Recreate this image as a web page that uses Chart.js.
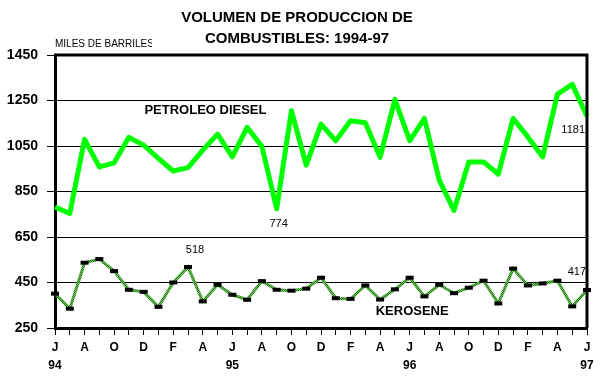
<!DOCTYPE html>
<html><head><meta charset="utf-8">
<script src="https://cdn.jsdelivr.net/npm/chart.js@4/dist/chart.umd.min.js"></script>
<style>html,body{margin:0;padding:0;background:#fff}canvas{display:block}</style>
</head><body>
<canvas id="c" width="610" height="380"></canvas>
<script>
const months = ['Jun 94','Jul 94','Aug 94','Sep 94','Oct 94','Nov 94','Dec 94','Jan 95','Feb 95','Mar 95','Apr 95','May 95',
  'Jun 95','Jul 95','Aug 95','Sep 95','Oct 95','Nov 95','Dec 95','Jan 96','Feb 96','Mar 96','Apr 96','May 96',
  'Jun 96','Jul 96','Aug 96','Sep 96','Oct 96','Nov 96','Dec 96','Jan 97','Feb 97','Mar 97','Apr 97','May 97','Jun 97'];
const tickLabels = ['J','','A','','O','','D','','F','','A','',
  'J','','A','','O','','D','','F','','A','',
  'J','','A','','O','','D','','F','','A','','J'];
const yearLabels = ['94','','','','','','','','','','','',
  '95','','','','','','','','','','','',
  '96','','','','','','','','','','','','97'];
const diesel = [782,753,1079,958,976,1088,1054,995,940,955,1032,1102,
  1002,1132,1049,774,1205,966,1146,1073,1161,1152,1000,1255,
  1073,1171,900,767,980,980,926,1171,1090,1002,1278,1321,1181];
const kerosene = [401,335,537,553,500,418,409,343,450,518,367,440,
  396,374,456,418,414,423,471,381,378,437,375,420,
  471,389,440,403,427,458,358,511,437,446,458,345,417];
const yTicks = [250,450,650,850,1050,1250,1450];
const dieselLabeled = [15, 36];
const keroseneLabeled = [9, 36];
const titleLines = ['VOLUMEN DE PRODUCCION DE', 'COMBUSTIBLES: 1994-97'];
const unitLabel = 'MILES DE BARRILES';
const seriesNames = ['PETROLEO DIESEL', 'KEROSENE'];

const FONT = '"Liberation Sans", Arial, sans-serif';

// checkered pattern for the kerosene line
const pc = document.createElement('canvas');
pc.width = 2; pc.height = 2;
const pctx = pc.getContext('2d');
pctx.fillStyle = '#7cc46a'; pctx.fillRect(0,0,2,2);
pctx.fillStyle = '#1e7a10'; pctx.fillRect(0,0,1,1); pctx.fillRect(1,1,1,1);
const keroPattern = pctx.createPattern(pc, 'repeat');

const deco = {
  id: 'deco',
  afterDraw(chart) {
    const ctx = chart.ctx, a = chart.chartArea;
    const xs = chart.scales.x, ys = chart.scales.y;
    ctx.save();
    // top & right frame
    ctx.strokeStyle = '#000'; ctx.lineWidth = 3;
    ctx.beginPath();
    ctx.moveTo(a.left - 1, a.top); ctx.lineTo(a.right, a.top); ctx.lineTo(a.right, a.bottom);
    ctx.stroke();
    // title
    ctx.fillStyle = '#000';
    ctx.textAlign = 'center'; ctx.textBaseline = 'middle';
    ctx.font = 'bold 15px ' + FONT;
    ctx.fillText(titleLines[0], 297, 18);
    ctx.fillText(titleLines[1], 297, 39);
    // unit label (clipped)
    ctx.save();
    ctx.beginPath(); ctx.rect(50, 30, 102, 20); ctx.clip();
    ctx.font = '10px ' + FONT; ctx.textAlign = 'left';
    ctx.fillText(unitLabel, 55, 44);
    ctx.restore();
    // series names
    ctx.font = 'bold 13px ' + FONT; ctx.textAlign = 'left';
    ctx.fillText(seriesNames[0], xs.getPixelForValue(6.05), ys.getPixelForValue(1208));
    ctx.fillText(seriesNames[1], xs.getPixelForValue(21.7), ys.getPixelForValue(323));
    // value labels
    ctx.font = '11px ' + FONT;
    dieselLabeled.forEach(i => {
      const x = xs.getPixelForValue(i), y = ys.getPixelForValue(diesel[i]);
      if (i === months.length - 1) { ctx.textAlign = 'right'; ctx.fillText(String(diesel[i]), x - 2, y + 14); }
      else { ctx.textAlign = 'center'; ctx.fillText(String(diesel[i]), x + 2, y + 15); }
    });
    keroseneLabeled.forEach(i => {
      const x = xs.getPixelForValue(i), y = ys.getPixelForValue(kerosene[i]);
      if (i === months.length - 1) { ctx.textAlign = 'right'; ctx.fillText(String(kerosene[i]), x - 1, y - 18); }
      else { ctx.textAlign = 'center'; ctx.fillText(String(kerosene[i]), x + 7, y - 17); }
    });
    ctx.restore();
  }
};

new Chart(document.getElementById('c'), {
  type: 'line',
  data: {
    labels: months,
    datasets: [
      { label: seriesNames[0], data: diesel, borderColor: '#00ff00', borderWidth: 5,
        borderJoinStyle: 'round', pointRadius: 0, tension: 0, fill: false },
      { label: seriesNames[1], data: kerosene, borderColor: keroPattern, borderWidth: 3,
        pointStyle: 'line', pointRadius: 4, pointBorderWidth: 4, pointBorderColor: '#000',
        pointBackgroundColor: '#000', tension: 0, fill: false }
    ]
  },
  options: {
    responsive: false, animation: false, devicePixelRatio: 1,
    layout: { padding: { top: 55, right: 23, left: 0, bottom: 0 } },
    plugins: { legend: { display: false }, title: { display: false }, tooltip: { enabled: false } },
    scales: {
      x: {
        type: 'category', offset: false,
        grid: { drawOnChartArea: false, drawTicks: true, tickLength: 7, color: '#000', lineWidth: 1 },
        border: { display: true, color: '#000', width: 3 },
        ticks: {
          autoSkip: false, maxRotation: 0, minRotation: 0, padding: 4, color: '#000',
          font: { family: FONT, size: 12, weight: 'bold', lineHeight: 1.5 },
          callback: (v, i) => { const a = tickLabels[i]; if (!a) return ''; return yearLabels[i] ? [a, yearLabels[i]] : a; }
        },
        afterFit: s => { s.height = 52; }
      },
      y: {
        min: 250, max: 1450,
        afterBuildTicks: s => { s.ticks = yTicks.map(v => ({ value: v })); },
        grid: { color: '#000', lineWidth: 1, tickLength: 8, drawTicks: true },
        border: { display: true, color: '#000', width: 3 },
        ticks: { padding: 9, color: '#000', font: { family: FONT, size: 14, weight: 'bold' },
          callback: v => String(v) },
        afterFit: s => { s.width = 55; }
      }
    }
  },
  plugins: [deco]
});
</script>
</body></html>
